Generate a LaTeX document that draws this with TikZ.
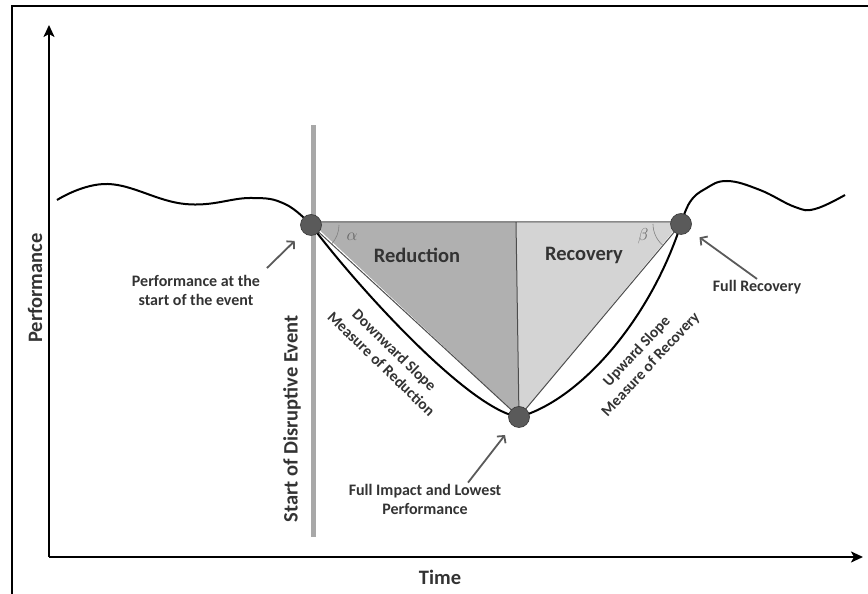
\documentclass[tikz,border=0pt]{standalone}
\usepackage{fontspec}
\setmainfont{Carlito}
\usepackage{tikz}
\usetikzlibrary{arrows.meta,positioning,calc}
\definecolor{dotgray}{HTML}{5A5A5A}
\definecolor{redfill}{HTML}{B0B0B0}
\definecolor{recfill}{HTML}{D4D4D4}
\definecolor{bargray}{HTML}{A8A8A8}
\definecolor{txtgray}{HTML}{333333}
\definecolor{edgegray}{HTML}{4D4D4D}
\tikzset{
  axis/.style={-{Stealth[length=12pt,width=11pt,inset=3pt]},line width=2pt,black},
  curve/.style={line width=2pt,black},
  edge/.style={line width=1pt,edgegray},
  angarc/.style={line width=0.6pt,gray},
  dot/.style={circle,fill=dotgray,draw=edgegray!70!black,line width=0.6pt,minimum size=21pt,inner sep=0pt},
  ptr/.style={-{Straight Barb[length=5pt,width=11pt]},line width=1.8pt,dotgray,shorten >=12pt},
  lbl/.style={font=\bfseries\fontsize{16}{19}\selectfont,text=txtgray,align=center,inner sep=1pt},
  slbl/.style={lbl,font=\bfseries\fontsize{15.5}{19}\selectfont},
  big/.style={font=\bfseries\fontsize{20.5}{24}\selectfont,text=txtgray,inner sep=1pt},
  greek/.style={text=gray!80!black,font=\fontsize{18}{18}\selectfont},
}
\begin{document}
\begin{tikzpicture}[x=1pt,y=1pt]
  \useasboundingbox (0,0) rectangle (868,594);
  \draw[line width=2.5pt] (12,0) -- (12,588) -- (868,588);
  \coordinate (o) at (49,37);
  \coordinate (ytop) at (49,569);
  \coordinate (xend) at (863,37);
  \draw[axis] (o) -- (ytop);
  \draw[axis] (o) -- (xend);
  \node[big,rotate=90] (perf) at (35,306) {Performance};
  \node[big] (time) at (440,17) {Time};
  \coordinate (bartop) at (313,469);
  \coordinate (barbot) at (313,57);
  \draw[bargray,line width=5pt] (barbot) -- (bartop);
  \node[big,rotate=90] (start) at (292,175) {Start of Disruptive Event};
  \coordinate (s1) at (311,369);
  \coordinate (low) at (519,177);
  \coordinate (full) at (681,370);
  \coordinate (mid) at (516,372);
  \fill[redfill] (311,372) -- (mid) -- (low) -- cycle;
  \fill[recfill] (mid) -- (681,372) -- (low) -- cycle;
  \draw[edge] (311,372) -- (681,372) (mid) -- (low) (s1) -- (low) -- (full);
  \draw[angarc] ([shift={(0:28)}]s1) arc (0:-43:28);
  \draw[angarc] ([shift={(180:28)}]full) arc (180:230:28);
  \draw[curve] plot[smooth,tension=0.7] coordinates {(57,394) (108,410) (185,390) (250,396) (285,390) (311,369)};
  \draw[curve] (s1) .. controls (360,304) and (470,184) .. (low) .. controls (580,194) and (650,274) .. (full);
  \draw[curve] plot[smooth,tension=0.7] coordinates {(681,370) (690,392) (705,405) (727,413) (760,404) (795,387) (815,385) (845,399)};
  \node[dot] (d1) at (s1) {};
  \node[dot] (d2) at (low) {};
  \node[dot] (d3) at (full) {};
  \node[big] (lred) at (417,339) {Reduction};
  \node[big] (lrec) at (584,339) {Recovery};
  \node[greek] (alpha) at (352,357) {$\alpha$};
  \node[greek] (beta) at (643,358) {$\beta$};
  \node[lbl] (lstart) at (196,304) {Performance at the\\start of the event};
  \node[lbl] (lfull) at (757,307) {Full Recovery};
  \node[lbl] (limpact) at (425,95) {Full Impact and Lowest\\Performance};
  \node[slbl,rotate=-44] (ldown) at (388,237) {Downward Slope\\Measure of Reduction};
  \node[slbl,rotate=47] (lup) at (644,236) {Upward Slope\\Measure of Recovery};
  \draw[ptr,shorten <=8pt] (lstart.north east) -- (d1);
  \draw[ptr] ([xshift=43pt]limpact.north) -- (d2);
  \draw[ptr] (lfull.north) -- (d3);
\end{tikzpicture}
\end{document}
